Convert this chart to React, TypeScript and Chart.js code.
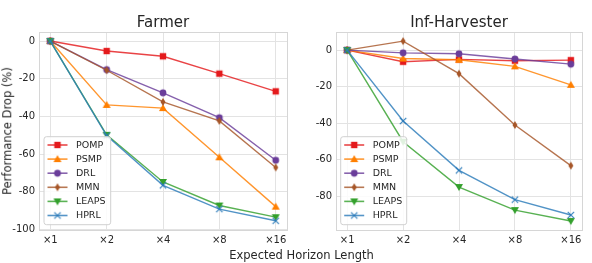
import React, { useEffect, useRef } from "react";
import { Chart, registerables } from "chart.js";

Chart.register(...registerables);

const categories = ["×1", "×2", "×4", "×8", "×16"];
const seriesNames = ["POMP", "PSMP", "DRL", "MMN", "LEAPS", "HPRL"];

const farmerPOMP = [0, -5.3, -8.1, -17.3, -26.7];
const farmerPSMP = [0, -33.9, -35.6, -61.7, -87.9];
const farmerDRL = [0, -15.2, -27.5, -40.7, -63.3];
const farmerMMN = [0, -15.5, -32.3, -42.4, -67.1];
const farmerLEAPS = [0, -49.8, -74.8, -87.3, -93.5];
const farmerHPRL = [0, -50.2, -76.6, -89.2, -95.4];

const harvPOMP = [0, -6.4, -5.1, -5.8, -5.5];
const harvPSMP = [0, -4.6, -5.3, -8.9, -19.0];
const harvDRL = [0, -1.5, -2.0, -4.9, -7.7];
const harvMMN = [0, 4.9, -12.9, -41.0, -63.2];
const harvLEAPS = [0, -50.1, -74.9, -87.5, -93.5];
const harvHPRL = [0, -38.8, -65.8, -81.8, -90.2];

const farmerYTicks = [-100, -80, -60, -40, -20, 0];
const harvYTicks = [-80, -60, -40, -20, 0];

const colors = ["#e41a1c", "#ff7f00", "#6a3d9a", "#a65628", "#33a02c", "#2b7bba"];
const markers = ["square", "triUp", "circle", "thinDiamond", "triDown", "x"];

const FONT = "'DejaVu Sans', sans-serif";

function hexA(hex: string, a: number) {
  const r = parseInt(hex.slice(1, 3), 16);
  const g = parseInt(hex.slice(3, 5), 16);
  const b = parseInt(hex.slice(5, 7), 16);
  return `rgba(${r},${g},${b},${a})`;
}

function makeMarker(kind: string, color: string): HTMLCanvasElement {
  const s = 10;
  const c = document.createElement("canvas");
  c.width = s;
  c.height = s;
  const ctx = c.getContext("2d")!;
  const m = s / 2;
  ctx.fillStyle = color;
  ctx.strokeStyle = color;
  ctx.lineWidth = 1.1;
  ctx.beginPath();
  if (kind === "square") {
    ctx.rect(m - 3.2, m - 3.2, 6.4, 6.4);
    ctx.fill();
  } else if (kind === "triUp") {
    ctx.moveTo(m, m - 4);
    ctx.lineTo(m + 4, m + 3);
    ctx.lineTo(m - 4, m + 3);
    ctx.closePath();
    ctx.fill();
  } else if (kind === "triDown") {
    ctx.moveTo(m, m + 4);
    ctx.lineTo(m + 4, m - 3);
    ctx.lineTo(m - 4, m - 3);
    ctx.closePath();
    ctx.fill();
  } else if (kind === "circle") {
    ctx.arc(m, m, 3.4, 0, Math.PI * 2);
    ctx.fill();
  } else if (kind === "thinDiamond") {
    ctx.moveTo(m, m - 4);
    ctx.lineTo(m + 2.5, m);
    ctx.lineTo(m, m + 4);
    ctx.lineTo(m - 2.5, m);
    ctx.closePath();
    ctx.fill();
  } else if (kind === "x") {
    ctx.moveTo(m - 3.2, m - 3.2);
    ctx.lineTo(m + 3.2, m + 3.2);
    ctx.moveTo(m + 3.2, m - 3.2);
    ctx.lineTo(m - 3.2, m + 3.2);
    ctx.stroke();
  }
  return c;
}

type Cfg = {
  series: number[][];
  yMin: number;
  yMax: number;
  yTicks: number[];
  padRight: number;
  yWidth: number;
  legend: { x: number; y: number; w: number; h: number };
};

function buildChart(canvas: HTMLCanvasElement, cfg: Cfg) {
  const markerImgs = colors.map((c, i) => makeMarker(markers[i], c));
  const datasets = cfg.series.map((vals, i) => ({
    label: seriesNames[i],
    data: vals.map((v, j) => ({ x: j, y: v })),
    borderColor: hexA(colors[i], 0.82),
    backgroundColor: colors[i],
    borderWidth: 1.4,
    pointStyle: markerImgs[i] as any,
    pointRadius: 4,
    tension: 0,
    order: cfg.series.length - i,
  }));

  const framePlugin = {
    id: "frame",
    beforeDatasetsDraw(chart: any) {
      const { ctx, chartArea: a } = chart;
      ctx.save();
      ctx.strokeStyle = "#d6d6d6";
      ctx.lineWidth = 1;
      ctx.strokeRect(Math.round(a.left) + 0.5, Math.round(a.top) + 0.5, Math.round(a.right - a.left), Math.round(a.bottom - a.top));
      ctx.restore();
    },
  };

  const legendPlugin = {
    id: "customLegend",
    afterDatasetsDraw(chart: any) {
      const ctx = chart.ctx;
      const L = cfg.legend;
      ctx.save();
      ctx.fillStyle = "rgba(255,255,255,0.85)";
      ctx.strokeStyle = "#d0d0d0";
      ctx.lineWidth = 1;
      const r = 2.5;
      ctx.beginPath();
      ctx.moveTo(L.x + r, L.y);
      ctx.lineTo(L.x + L.w - r, L.y);
      ctx.quadraticCurveTo(L.x + L.w, L.y, L.x + L.w, L.y + r);
      ctx.lineTo(L.x + L.w, L.y + L.h - r);
      ctx.quadraticCurveTo(L.x + L.w, L.y + L.h, L.x + L.w - r, L.y + L.h);
      ctx.lineTo(L.x + r, L.y + L.h);
      ctx.quadraticCurveTo(L.x, L.y + L.h, L.x, L.y + L.h - r);
      ctx.lineTo(L.x, L.y + r);
      ctx.quadraticCurveTo(L.x, L.y, L.x + r, L.y);
      ctx.closePath();
      ctx.fill();
      ctx.stroke();
      ctx.font = `9.5px ${FONT}`;
      ctx.textBaseline = "middle";
      ctx.textAlign = "left";
      seriesNames.forEach((name, i) => {
        const yy = L.y + 8.3 + i * 14.1;
        ctx.strokeStyle = hexA(colors[i], 0.8);
        ctx.lineWidth = 1.6;
        ctx.beginPath();
        ctx.moveTo(L.x + 3.5, yy);
        ctx.lineTo(L.x + 23.5, yy);
        ctx.stroke();
        ctx.drawImage(markerImgs[i], L.x + 13.5 - 5, yy - 5);
        ctx.fillStyle = "#262626";
        ctx.fillText(name, L.x + 32, yy + 0.5);
      });
      ctx.restore();
    },
  };

  return new Chart(canvas, {
    type: "line",
    data: { datasets: datasets as any },
    plugins: [framePlugin, legendPlugin],
    options: {
      animation: false,
      responsive: false,
      maintainAspectRatio: false,
      layout: { padding: { top: 32, right: cfg.padRight, left: 0, bottom: 0 } },
      plugins: { legend: { display: false }, tooltip: { enabled: false }, title: { display: false } },
      scales: {
        x: {
          type: "linear",
          min: -0.2,
          max: 4.2,
          afterBuildTicks(scale: any) {
            scale.ticks = categories.map((_, i) => ({ value: i }));
          },
          afterFit(scale: any) {
            scale.height = 33;
          },
          ticks: {
            padding: 4,
            color: "#262626",
            font: { family: FONT, size: 10 },
            maxRotation: 0,
            callback: (v: any) => categories[Math.round(Number(v))] ?? "",
          },
          grid: { color: "#e3e3e3", drawTicks: false, lineWidth: 1 },
          border: { display: false },
        },
        y: {
          type: "linear",
          min: cfg.yMin,
          max: cfg.yMax,
          afterBuildTicks(scale: any) {
            scale.ticks = cfg.yTicks.map((v) => ({ value: v }));
          },
          afterFit(scale: any) {
            scale.width = cfg.yWidth;
          },
          ticks: {
            padding: 4,
            color: "#262626",
            font: { family: FONT, size: 10 },
            callback: (v: any) => String(v),
          },
          grid: { color: "#e3e3e3", drawTicks: false, lineWidth: 1 },
          border: { display: false },
        },
      },
    },
  } as any);
}

export default function App() {
  const leftRef = useRef<HTMLCanvasElement>(null);
  const rightRef = useRef<HTMLCanvasElement>(null);

  useEffect(() => {
    document.body.style.margin = "0";
    const c1 = buildChart(leftRef.current!, {
      series: [farmerPOMP, farmerPSMP, farmerDRL, farmerMMN, farmerLEAPS, farmerHPRL],
      yMin: -100.3,
      yMax: 4.8,
      yTicks: farmerYTicks,
      padRight: 9,
      yWidth: 39,
      legend: { x: 44, y: 136.7, w: 66.7, h: 88 },
    });
    const c2 = buildChart(rightRef.current!, {
      series: [harvPOMP, harvPSMP, harvDRL, harvMMN, harvLEAPS, harvHPRL],
      yMin: -98.4,
      yMax: 9.9,
      yTicks: harvYTicks,
      padRight: 10,
      yWidth: 40,
      legend: { x: 44.7, y: 136.7, w: 66, h: 88 },
    });
    return () => {
      c1.destroy();
      c2.destroy();
    };
  }, []);

  const textBase: React.CSSProperties = {
    position: "absolute",
    fontFamily: FONT,
    color: "#262626",
    whiteSpace: "nowrap",
    lineHeight: 1,
  };

  return (
    <div style={{ position: "relative", width: 592, height: 263, background: "#fff", overflow: "hidden" }}>
      <canvas ref={leftRef} width={296} height={263} style={{ position: "absolute", left: 0, top: 0 }} />
      <canvas ref={rightRef} width={296} height={263} style={{ position: "absolute", left: 296, top: 0 }} />
      <div style={{ ...textBase, left: 163, top: 22, fontSize: 15, transform: "translate(-50%,-50%)" }}>Farmer</div>
      <div style={{ ...textBase, left: 459, top: 22, fontSize: 15, transform: "translate(-50%,-50%)" }}>Inf-Harvester</div>
      <div style={{ ...textBase, left: 301.5, top: 255.5, fontSize: 11.5, transform: "translate(-50%,-50%)" }}>
        Expected Horizon Length
      </div>
      <div
        style={{
          ...textBase,
          left: 7.5,
          top: 131,
          fontSize: 11.5,
          transform: "translate(-50%,-50%) rotate(-90deg)",
        }}
      >
        Performance Drop (%)
      </div>
    </div>
  );
}
